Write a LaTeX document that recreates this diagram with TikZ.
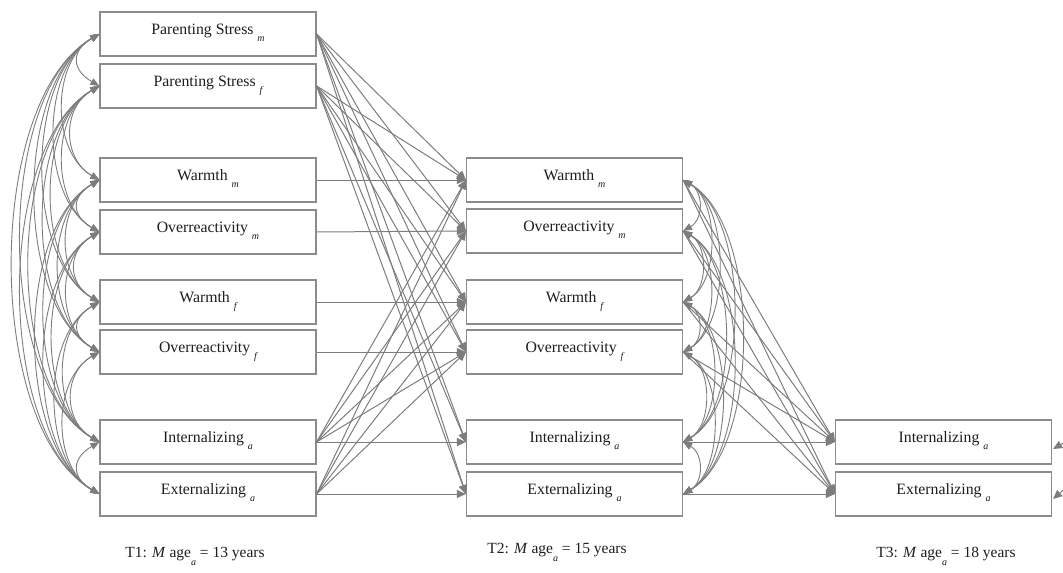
\documentclass[tikz,border=0pt]{standalone}
\usepackage{fontspec}
\setmainfont{Liberation Serif}
\usetikzlibrary{arrows.meta,calc}
\definecolor{ln}{RGB}{125,125,125}
\definecolor{bx}{RGB}{140,140,140}
\definecolor{tx}{RGB}{30,30,30}
\newcommand{\sbs}[1]{\raisebox{-7pt}{\fontsize{10}{10}\selectfont\itshape #1}}
\newcommand{\sbl}[1]{\raisebox{-8pt}{\fontsize{10}{10}\selectfont\itshape #1}}
\begin{document}
\begin{tikzpicture}[x=1pt,y=-1pt,
  var/.style={draw=bx, line width=1.2pt, minimum width=216pt, minimum height=44pt,
    inner sep=0pt, text height=10pt, text depth=10pt,
    font=\fontsize{15.8}{18}\selectfont, text=tx, fill=white},
  path/.style={draw=ln, line width=1pt, -{Triangle[length=9pt,width=8pt]}},
  cov/.style={draw=ln, line width=0.9pt,
    {Triangle[length=9pt,width=7pt]}-{Triangle[length=9pt,width=7pt]}},
  lab/.style={font=\fontsize{15.5}{18}\selectfont, text=tx, anchor=base, inner sep=0pt}]
\useasboundingbox (0,0) rectangle (1063,573);
\begin{scope}
\clip (0,0) rectangle (1063,573);
% T1
\node[var] (a1) at (208,34)  {Parenting Stress \sbs{m}};
\node[var] (a2) at (208,86)  {Parenting Stress \sbs{f}};
\node[var] (a3) at (208,180) {Warmth \sbs{m}};
\node[var] (a4) at (208,232) {Overreactivity \sbs{m}};
\node[var] (a5) at (208,302) {Warmth \sbs{f}};
\node[var] (a6) at (208,352) {Overreactivity \sbs{f}};
\node[var] (a7) at (208,442) {Internalizing \sbs{a}};
\node[var] (a8) at (208,494) {Externalizing \sbs{a}};
% T2
\node[var] (b1) at (574.5,180) {Warmth \sbs{m}};
\node[var] (b2) at (574.5,231) {Overreactivity \sbs{m}};
\node[var] (b3) at (574.5,302) {Warmth \sbs{f}};
\node[var] (b4) at (574.5,352) {Overreactivity \sbs{f}};
\node[var] (b5) at (574.5,442) {Internalizing \sbs{a}};
\node[var] (b6) at (574.5,494) {Externalizing \sbs{a}};
% T3
\node[var] (c1) at (943.5,442) {Internalizing \sbs{a}};
\node[var] (c2) at (943.5,494) {Externalizing \sbs{a}};
% labels
\node[lab] (t1) at (195,557) {T1: \textit{M} age\sbl{a} = 13 years};
\node[lab] (t2) at (557,553) {T2: \textit{M} age\sbl{a} = 15 years};
\node[lab] (t3) at (946,557) {T3: \textit{M} age\sbl{a} = 18 years};
% T1 -> T2
\foreach \j in {1,...,6}{
  \draw[path] (a1.east) -- (b\j.west);
  \draw[path] (a2.east) -- (b\j.west);
}
\draw[path] (a3.east) -- (b1.west);
\draw[path] (a4.east) -- (b2.west);
\draw[path] (a5.east) -- (b3.west);
\draw[path] (a6.east) -- (b4.west);
\foreach \j in {1,2,3,4,5}{\draw[path] (a7.east) -- (b\j.west);}
\foreach \j in {1,2,3,4,6}{\draw[path] (a8.east) -- (b\j.west);}
% T2 -> T3
\foreach \j in {1,...,4}{
  \draw[path] (b\j.east) -- (c1.west);
  \draw[path] (b\j.east) -- (c2.west);
}
\draw[path] (b5.east) -- (c1.west);
\draw[path] (b6.east) -- (c2.west);
% T1 covariances
\foreach \i/\yi in {1/34,2/86,3/180,4/232,5/302,6/352,7/442,8/494}{
  \foreach \j/\yj in {1/34,2/86,3/180,4/232,5/302,6/352,7/442,8/494}{
    \ifnum\j>\i
      \pgfmathsetmacro\L{(13+0.16*(\yj-\yi))/(0.254*(\yj-\yi))}
      \draw[cov] (a\i.west) to[bend right=60, looseness=\L] (a\j.west);
    \fi
  }
}
% T2 covariances
\foreach \i/\yi in {1/180,2/231,3/302,4/352,5/442,6/494}{
  \foreach \j/\yj in {1/180,2/231,3/302,4/352,5/442,6/494}{
    \ifnum\j>\i
      \pgfmathsetmacro\L{(7+0.165*(\yj-\yi))/(0.254*(\yj-\yi))}
      \draw[cov] (b\i.east) to[bend left=60, looseness=\L] (b\j.east);
    \fi
  }
}
% residual arrows at T3 (cut off)
\coordinate (e1) at (1072,438);
\coordinate (e2) at (1070,484);
\draw[path] (e1) -- ($(c1.east)+(1,7)$);
\draw[path] (e2) -- ($(c2.east)+(1,5)$);
\end{scope}
\end{tikzpicture}
\end{document}
